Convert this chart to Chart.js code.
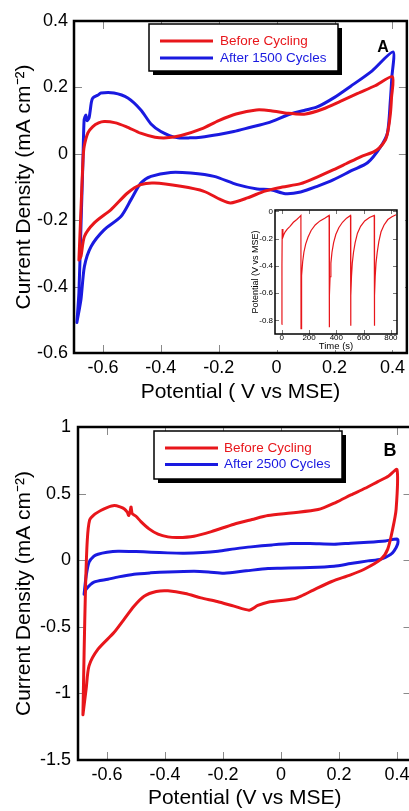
<!DOCTYPE html>
<html>
<head>
<meta charset="utf-8">
<script src="https://cdn.jsdelivr.net/npm/chart.js@4.4.0/dist/chart.umd.min.js"></script>
<style>
  body { margin: 0; background: #fff; overflow: hidden; width: 409px; height: 811px; position: relative; }
  canvas { position: absolute; }
  #cvA { left: 0; top: 0; }
  #cvB { left: 0; top: 405px; }
  #inset { left: 243px; top: 203px; }
</style>
</head>
<body>
<canvas id="cvA" width="409" height="405"></canvas>
<canvas id="cvB" width="416" height="406"></canvas>
<canvas id="inset" width="162" height="149"></canvas>
<script>
Chart.defaults.font.family = "'Liberation Sans', Arial, sans-serif";
Chart.defaults.color = '#000';

const RED = '#e8161b';
const BLUE = '#1a1ae0';

// panel A - CV before cycling / after 1500 cycles
const aBeforeV = [-0.683,-0.676,-0.669,-0.665,-0.652,-0.635,-0.615,-0.596,-0.56,-0.52,-0.47,-0.42,-0.38,-0.33,-0.26,-0.2,-0.14,-0.07,-0.02,0.04,0.1,0.16,0.22,0.28,0.34,0.4,
  0.397,0.393,0.385,0.376,0.355,0.335,0.29,0.24,0.197,0.14,0.083,0.02,-0.021,-0.044,-0.101,-0.159,-0.193,-0.251,-0.331,-0.423,-0.469,-0.515,-0.572,-0.63,-0.664,-0.676,-0.683];
const aBeforeJ = [-0.32,-0.17,-0.02,0.021,0.063,0.082,0.093,0.097,0.094,0.082,0.062,0.05,0.048,0.055,0.075,0.1,0.12,0.132,0.13,0.122,0.12,0.135,0.158,0.182,0.205,0.232,
  0.17,0.12,0.07,0.042,0.018,0.006,-0.009,-0.03,-0.048,-0.07,-0.09,-0.1,-0.108,-0.113,-0.133,-0.148,-0.138,-0.113,-0.098,-0.088,-0.093,-0.118,-0.168,-0.208,-0.249,-0.309,-0.32];
const aAfterV = [-0.69,-0.683,-0.676,-0.669,-0.665,-0.659,-0.655,-0.648,-0.64,-0.635,-0.617,-0.607,-0.562,-0.514,-0.469,-0.434,-0.4,-0.37,-0.341,-0.3,-0.262,-0.2,-0.148,-0.09,-0.031,0.048,0.1,0.14,0.2,0.255,0.33,0.402,
  0.398,0.393,0.383,0.359,0.314,0.26,0.197,0.14,0.083,0.03,-0.021,-0.067,-0.136,-0.216,-0.297,-0.366,-0.434,-0.469,-0.503,-0.538,-0.596,-0.641,-0.664,-0.676,-0.69];
const aAfterJ = [-0.508,-0.418,-0.219,-0.018,0.102,0.117,0.1,0.108,0.155,0.168,0.177,0.183,0.183,0.168,0.132,0.09,0.067,0.055,0.048,0.048,0.05,0.058,0.067,0.08,0.093,0.12,0.132,0.141,0.17,0.203,0.25,0.307,
  0.23,0.162,0.063,0.021,-0.027,-0.05,-0.078,-0.098,-0.115,-0.12,-0.108,-0.106,-0.093,-0.068,-0.058,-0.056,-0.068,-0.088,-0.138,-0.189,-0.229,-0.279,-0.339,-0.439,-0.508];
const aTicksX = [-0.6, -0.4, -0.2, 0, 0.2, 0.4];
const aTicksY = [-0.6, -0.4, -0.2, 0, 0.2, 0.4];

// inset - potential transient during cycling
const insetT = [0,1,3,8,15,25,40,60,85,110,130,140,141,143,147,153,162,175,192,215,245,280,315,347,348,350,354,360,368,380,
  396,418,445,475,504,505,507,511,517,526,538,555,578,608,643,678,679,681,685,691,700,712,728,750,778,808,838];
const insetE = [-0.83,-0.4,-0.13,-0.19,-0.17,-0.15,-0.13,-0.11,-0.08,-0.06,-0.04,-0.03,-0.86,-0.62,-0.47,-0.37,-0.3,-0.24,-0.19,-0.14,-0.1,-0.07,-0.05,-0.03,-0.85,-0.62,-0.48,-0.38,-0.3,-0.23,
  -0.17,-0.12,-0.08,-0.05,-0.03,-0.84,-0.62,-0.48,-0.38,-0.3,-0.23,-0.16,-0.11,-0.07,-0.045,-0.03,-0.84,-0.62,-0.48,-0.38,-0.3,-0.22,-0.15,-0.1,-0.06,-0.04,-0.025];
const insetTicksX = [0, 200, 400, 600, 800];
const insetTicksY = [-0.8, -0.6, -0.4, -0.2, 0];

// panel B - CV before cycling / after 2500 cycles
const bBeforeV = [-0.683,-0.679,-0.674,-0.668,-0.66,-0.645,-0.62,-0.6,-0.575,-0.555,-0.54,-0.53,-0.525,-0.52,-0.517,-0.513,-0.5,-0.483,-0.455,-0.424,-0.39,-0.355,-0.3,-0.24,-0.162,-0.1,-0.045,0.034,0.128,0.19,0.241,0.29,0.334,0.37,0.4,
  0.397,0.385,0.368,0.345,0.287,0.24,0.175,0.12,0.069,0.045,-0.045,-0.08,-0.11,-0.162,-0.22,-0.276,-0.33,-0.39,-0.43,-0.472,-0.507,-0.54,-0.576,-0.631,-0.662,-0.672,-0.683];
const bBeforeJ = [-1.16,-0.7,-0.2,0.15,0.3,0.34,0.375,0.395,0.41,0.4,0.385,0.36,0.335,0.37,0.4,0.35,0.33,0.29,0.235,0.195,0.175,0.17,0.18,0.215,0.27,0.305,0.335,0.355,0.38,0.435,0.49,0.54,0.59,0.63,0.68,
  0.383,0.233,0.083,0.008,-0.068,-0.11,-0.16,-0.215,-0.27,-0.29,-0.315,-0.34,-0.375,-0.345,-0.31,-0.283,-0.25,-0.23,-0.235,-0.27,-0.345,-0.44,-0.543,-0.668,-0.793,-0.968,-1.16];
const bAfterV = [-0.679,-0.672,-0.662,-0.645,-0.631,-0.6,-0.562,-0.5,-0.448,-0.39,-0.334,-0.27,-0.217,-0.16,-0.103,-0.03,0.034,0.1,0.183,0.24,0.3,0.36,0.402,
  0.402,0.39,0.379,0.345,0.3,0.24,0.183,0.1,0.0,-0.045,-0.12,-0.196,-0.25,-0.3,-0.39,-0.45,-0.507,-0.56,-0.597,-0.645,-0.672,-0.679];
const bAfterJ = [-0.255,-0.12,-0.015,0.03,0.045,0.06,0.068,0.065,0.06,0.055,0.053,0.058,0.068,0.085,0.1,0.115,0.125,0.125,0.12,0.128,0.135,0.145,0.158,
  0.12,0.07,0.045,0.008,-0.005,-0.025,-0.045,-0.055,-0.06,-0.062,-0.08,-0.098,-0.088,-0.083,-0.088,-0.095,-0.105,-0.125,-0.143,-0.165,-0.218,-0.255];
const bTicksX = [-0.6, -0.4, -0.2, 0, 0.2, 0.4];
const bTicksY = [-1.5, -1, -0.5, 0, 0.5, 1];

const pts = (xs, ys) => xs.map((x, i) => ({ x: x, y: ys[i] }));

// black box round the plot, short grey ticks pointing inward on all four sides
const framePlugin = {
  id: 'frame',
  beforeDraw(chart, args, o) {
    if (!o.fill) return;
    chart.ctx.save();
    chart.ctx.fillStyle = '#fff';
    chart.ctx.fillRect(0, 0, chart.width, o.fill);
    chart.ctx.restore();
  },
  beforeDatasetsDraw(chart, args, o) {
    const { ctx, chartArea: a, scales: { x, y } } = chart;
    ctx.save();
    ctx.strokeStyle = o.tickColor;
    ctx.lineWidth = 1;
    ctx.beginPath();
    x.ticks.forEach(t => {
      const px = Math.round(x.getPixelForValue(t.value)) + 0.5;
      ctx.moveTo(px, a.bottom); ctx.lineTo(px, a.bottom - o.tickLen);
      ctx.moveTo(px, a.top); ctx.lineTo(px, a.top + o.tickLen);
    });
    y.ticks.forEach(t => {
      const py = Math.round(y.getPixelForValue(t.value)) + 0.5;
      ctx.moveTo(a.left, py); ctx.lineTo(a.left + o.tickLen, py);
      ctx.moveTo(a.right, py); ctx.lineTo(a.right - o.tickLen, py);
    });
    ctx.stroke();
    ctx.restore();
  },
  afterDatasetsDraw(chart, args, o) {
    const { ctx, chartArea: a } = chart;
    ctx.save();
    ctx.strokeStyle = '#000';
    ctx.lineWidth = o.width;
    ctx.strokeRect(a.left, a.top, a.right - a.left, a.bottom - a.top);
    ctx.restore();
  }
};

// legend in a box with a drop shadow, plus the panel letter
const boxLegend = {
  id: 'boxLegend',
  afterDraw(chart, args, o) {
    const ctx = chart.ctx;
    ctx.save();
    ctx.fillStyle = '#000';
    ctx.fillRect(o.x + o.shadow, o.y + o.shadow, o.w, o.h);
    ctx.fillStyle = '#fff';
    ctx.fillRect(o.x, o.y, o.w, o.h);
    ctx.strokeStyle = '#000';
    ctx.lineWidth = 1.5;
    ctx.strokeRect(o.x, o.y, o.w, o.h);
    ctx.font = o.font;
    ctx.textBaseline = 'middle';
    chart.data.datasets.forEach((ds, i) => {
      const yy = o.y + o.row0 + i * o.rowGap;
      ctx.strokeStyle = ds.borderColor;
      ctx.lineWidth = 3;
      ctx.beginPath();
      ctx.moveTo(o.x + o.line0, yy);
      ctx.lineTo(o.x + o.line1, yy);
      ctx.stroke();
      ctx.fillStyle = ds.borderColor;
      ctx.fillText(ds.label, o.x + o.textX, yy);
    });
    ctx.font = o.tagFont;
    ctx.fillStyle = '#000';
    ctx.textAlign = 'center';
    ctx.fillText(o.tag, o.tagX, o.tagY);
    ctx.restore();
  }
};

function cvLine(label, color, xs, ys) {
  return { label: label, data: pts(xs, ys), showLine: true, borderColor: color, borderWidth: 3,
           pointRadius: 0, tension: 0.25, borderJoinStyle: 'round', borderCapStyle: 'round' };
}

function axis(min, max, ticks, title, size, fit) {
  return {
    min: min, max: max,
    grid: { display: false, drawTicks: false },
    border: { display: false },
    afterBuildTicks: s => { s.ticks = ticks.map(v => ({ value: v })); },
    afterFit: fit,
    ticks: { font: { size: size.tick }, padding: size.pad, color: '#000', callback: v => String(v), maxRotation: 0, autoSkip: false },
    title: { display: true, text: title, font: { size: size.title }, padding: size.titlePad, color: '#000' }
  };
}

function cvChart(id, datasets, xTicks, yTicks, yMin, yMax, xMax, box, layout) {
  return new Chart(document.getElementById(id), {
    type: 'scatter',
    data: { datasets: datasets },
    options: {
      responsive: false,
      animation: false,
      layout: { padding: layout.padding },
      plugins: {
        legend: { display: false },
        tooltip: { enabled: false },
        frame: { tickLen: 8, tickColor: '#8a8a8a', width: 2.5 },
        boxLegend: box
      },
      scales: {
        x: axis(-0.7, xMax, xTicks, layout.xTitle, { tick: 18, pad: 4, title: 21, titlePad: { top: 0, bottom: layout.xTitleBottom } },
                s => { s.height = layout.xHeight; }),
        y: axis(yMin, yMax, yTicks, 'Current Density (mA cm\u207B\u00B2)', { tick: 18, pad: layout.yPad, title: 21, titlePad: { top: 12, bottom: 0 } },
                s => { s.width = layout.yWidth; })
      }
    },
    plugins: [framePlugin, boxLegend]
  });
}

cvChart('cvA',
  [cvLine('Before Cycling', RED, aBeforeV, aBeforeJ), cvLine('After 1500 Cycles', BLUE, aAfterV, aAfterJ)],
  aTicksX, aTicksY, -0.6, 0.4, 0.45,
  { x: 149, y: 24, w: 189, h: 47, shadow: 4, row0: 17, rowGap: 17, line0: 11, line1: 64, textX: 71,
    font: '13.5px "Liberation Sans", Arial, sans-serif', tag: 'A', tagFont: 'bold 16px "Liberation Sans", Arial, sans-serif', tagX: 383, tagY: 48 },
  { padding: { top: 21, right: 2, left: 0, bottom: 0 }, xHeight: 52, yWidth: 74, yPad: 6, xTitle: 'Potential ( V vs MSE)', xTitleBottom: 0 });

cvChart('cvB',
  [cvLine('Before Cycling', RED, bBeforeV, bBeforeJ), cvLine('After 2500 Cycles', BLUE, bAfterV, bAfterJ)],
  bTicksX, bTicksY, -1.5, 1, 0.45,
  { x: 154, y: 26, w: 188, h: 48, shadow: 4, row0: 17, rowGap: 16.5, line0: 11, line1: 64, textX: 70,
    font: '13.5px "Liberation Sans", Arial, sans-serif', tag: 'B', tagFont: 'bold 18px "Liberation Sans", Arial, sans-serif', tagX: 390, tagY: 46 },
  { padding: { top: 22, right: 4.5, left: 0, bottom: 0 }, xHeight: 51, yWidth: 78, yPad: 7, xTitle: 'Potential (V vs MSE)', xTitleBottom: 0 });

// inset chart; white backing stops short of the main frame's bottom edge
new Chart(document.getElementById('inset'), {
  type: 'scatter',
  data: { datasets: [{ data: pts(insetT, insetE), showLine: true, borderColor: RED, borderWidth: 1.2, pointRadius: 0, tension: 0 }] },
  options: {
    responsive: false,
    animation: false,
    layout: { padding: { top: 7, right: 8, left: 0, bottom: 0 } },
    plugins: {
      legend: { display: false },
      tooltip: { enabled: false },
      frame: { tickLen: 4, tickColor: '#777', width: 1.5, fill: 147 }
    },
    scales: {
      x: axis(-50, 845, insetTicksX, 'Time (s)', { tick: 8, pad: -1, title: 9.5, titlePad: { top: 0, bottom: 0 } }, s => { s.height = 18; }),
      y: axis(-0.9, 0.01, insetTicksY, 'Potential (V vs MSE)', { tick: 8, pad: 2, title: 9, titlePad: { top: 7, bottom: 0 } }, s => { s.width = 32; })
    }
  },
  plugins: [framePlugin]
});
</script>
</body>
</html>
